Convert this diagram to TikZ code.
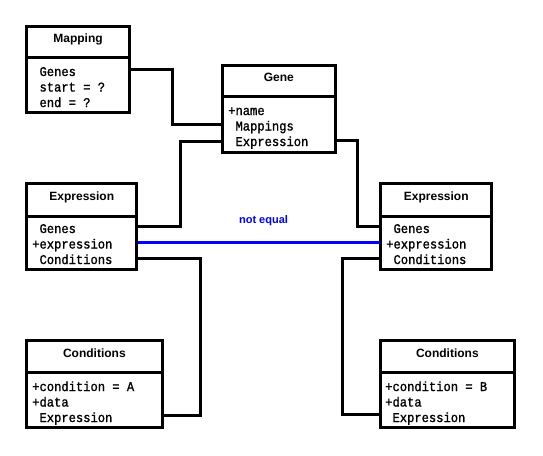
\documentclass[tikz,border=0pt]{standalone}
\usepackage{fontspec}
\newfontfamily\titlefont{Liberation Sans}
\newfontfamily\bodyfont[FakeStretch=0.91,FakeBold=1.2]{Liberation Mono}
\usetikzlibrary{fit}
\tikzset{
  boxshape/.style={draw=black, line width=2.25pt, fill=white, inner sep=0pt, rectangle},
  divline/.style={draw=black, line width=2.25pt},
  conn/.style={draw=black, line width=2.25pt},
  neq/.style={draw=blue, line width=2.25pt},
  titletext/.style={font=\titlefont\bfseries\fontsize{9}{10}\selectfont, inner sep=0pt, anchor=base},
  bodytext/.style={font=\bodyfont\fontsize{10}{11}\selectfont, inner sep=0pt, anchor=base west},
  neqtext/.style={font=\titlefont\bfseries\fontsize{8.25}{9}\selectfont, text=blue, inner sep=0pt, anchor=base},
}
\begin{document}
\begin{tikzpicture}[x=0.75pt,y=-0.75pt]
\useasboundingbox (0,0) rectangle (543,455);
% boxes (invisible placeholders for connectors first)
\node[inner sep=0pt, fit={(26.8,26.7) (129.2,112.5)}] (map) {};
\node[inner sep=0pt, fit={(223,65.3) (334.8,152)}] (gene) {};
\node[inner sep=0pt, fit={(26.8,184) (136.7,269.7)}] (exl) {};
\node[inner sep=0pt, fit={(380.8,184) (491.7,269.7)}] (exr) {};
\node[inner sep=0pt, fit={(26.8,341) (162,427.7)}] (cdl) {};
\node[inner sep=0pt, fit={(380.8,341) (514,427.7)}] (cdr) {};
% connectors
\draw[conn] (map.east |- 0,69.5) -| (172.5,124.7) -- (gene.west |- 0,124.7);
\draw[conn] (gene.west |- 0,141) -| (180,226.5) -- (exl.east |- 0,226.5);
\draw[conn] (gene.east |- 0,140.5) -| (357.5,226.5) -- (exr.west |- 0,226.5);
\draw[conn] (exl.east |- 0,258.7) -| (200,415) -- (cdl.east |- 0,415);
\draw[conn] (exr.west |- 0,258.7) -| (342.5,414) -- (cdr.west |- 0,414);
\draw[neq] (exl.east |- 0,242.5) -- (exr.west |- 0,242.5);
\node[neqtext] (neqlabel) at (263.5,223) {not equal};
% box outlines
\foreach \b/\d in {map/57.7, gene/96.8, exl/216.3, exr/216.3, cdl/372.7, cdr/372.7} {
  \draw[boxshape] (\b.north west) rectangle (\b.south east);
  \draw[divline] (\b.west |- 0,\d) -- (\b.east |- 0,\d);
}
% titles
\node[titletext] (mapT) at (map.center |- 0,42) {Mapping};
\node[titletext] (geneT) at (gene.center |- 0,81) {Gene};
\node[titletext] (exlT) at (exl.center |- 0,200) {Expression};
\node[titletext] (exrT) at (exr.center |- 0,200) {Expression};
\node[titletext] (cdlT) at (cdl.center |- 0,357) {Conditions};
\node[titletext] (cdrT) at (cdr.center |- 0,357) {Conditions};
% body lines
\node[bodytext] (map1) at (32,76) {\phantom{+}Genes};
\node[bodytext] (map2) at (32,91.5) {\phantom{+}start = ?};
\node[bodytext] (map3) at (32,107) {\phantom{+}end = ?};
\node[bodytext] (gene1) at (228,115) {+name};
\node[bodytext] (gene2) at (228,130.5) {\phantom{+}Mappings};
\node[bodytext] (gene3) at (228,146) {\phantom{+}Expression};
\node[bodytext] (exl1) at (32,233) {\phantom{+}Genes};
\node[bodytext] (exl2) at (32,248.5) {+expression};
\node[bodytext] (exl3) at (32,264) {\phantom{+}Conditions};
\node[bodytext] (exr1) at (386,233) {\phantom{+}Genes};
\node[bodytext] (exr2) at (386,248.5) {+expression};
\node[bodytext] (exr3) at (386,264) {\phantom{+}Conditions};
\node[bodytext] (cdl1) at (32,391) {+condition = A};
\node[bodytext] (cdl2) at (32,406.5) {+data};
\node[bodytext] (cdl3) at (32,422) {\phantom{+}Expression};
\node[bodytext] (cdr1) at (385,391) {+condition = B};
\node[bodytext] (cdr2) at (385,406.5) {+data};
\node[bodytext] (cdr3) at (385,422) {\phantom{+}Expression};
\end{tikzpicture}
\end{document}
